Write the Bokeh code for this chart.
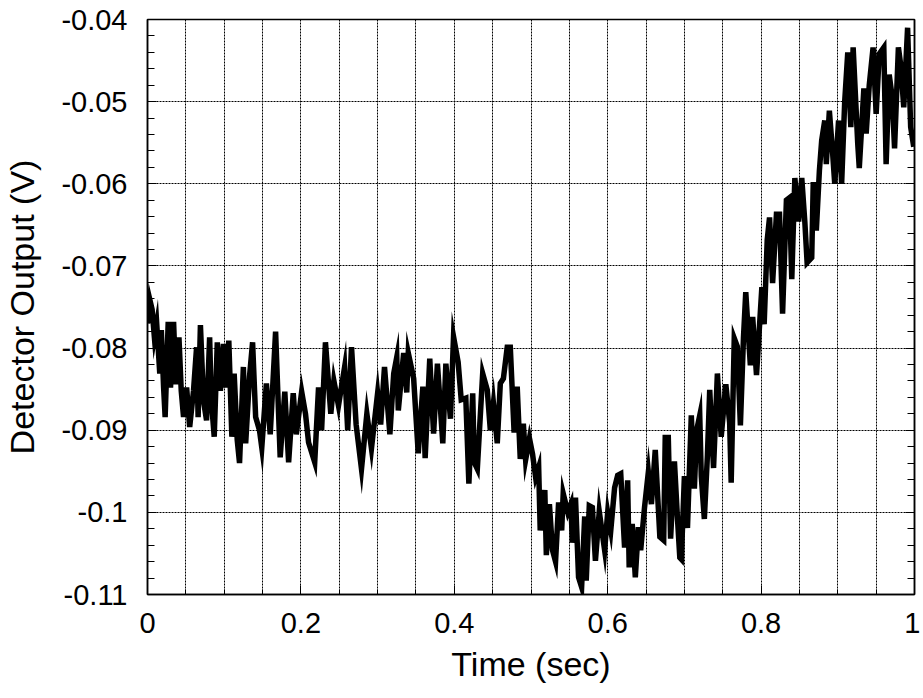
from bokeh.plotting import figure
from bokeh.models import Range1d, FixedTicker, LinearAxis
from bokeh.embed import file_html
from bokeh.resources import INLINE

# Data
time_sec = [
    0.000, 0.003, 0.006, 0.009, 0.012, 0.016, 0.018, 0.021, 0.023, 0.027, 0.030, 0.034, 0.037, 0.041,
    0.044, 0.047, 0.051, 0.055, 0.060, 0.064, 0.066, 0.069, 0.073, 0.077, 0.081, 0.083, 0.087, 0.091,
    0.095, 0.099, 0.102, 0.106, 0.110, 0.113, 0.117, 0.120, 0.125, 0.128, 0.133, 0.137, 0.141, 0.146,
    0.149, 0.155, 0.160, 0.167, 0.173, 0.179, 0.184, 0.190, 0.194, 0.201, 0.206, 0.210, 0.218, 0.223,
    0.227, 0.232, 0.239, 0.243, 0.249, 0.257, 0.261, 0.266, 0.272, 0.279, 0.286, 0.292, 0.300, 0.304,
    0.309, 0.316,
    0.321, 0.325, 0.327, 0.334, 0.338, 0.340, 0.347, 0.353, 0.359, 0.362, 0.368, 0.373, 0.378, 0.385,
    0.389, 0.395, 0.399, 0.405, 0.409, 0.415, 0.419, 0.424, 0.426, 0.430, 0.437, 0.443, 0.447, 0.451,
    0.456, 0.460, 0.464, 0.469, 0.473, 0.478, 0.482, 0.486, 0.490,
    0.493, 0.498, 0.502, 0.506, 0.510, 0.512, 0.518, 0.520, 0.524, 0.528, 0.532, 0.536, 0.540, 0.542,
    0.548, 0.552, 0.554, 0.558, 0.562, 0.566, 0.570, 0.572, 0.576, 0.580, 0.584, 0.589, 0.596, 0.600,
    0.604, 0.609, 0.613, 0.617, 0.622, 0.626, 0.628, 0.632, 0.636, 0.640, 0.643, 0.648, 0.653, 0.657,
    0.662,
    0.668, 0.673, 0.675, 0.679, 0.682, 0.687, 0.691, 0.694, 0.696, 0.700, 0.704, 0.709, 0.713, 0.716,
    0.720, 0.722, 0.726, 0.730, 0.733, 0.738, 0.743, 0.748, 0.754, 0.759, 0.761, 0.765, 0.769, 0.773,
    0.777, 0.780, 0.782, 0.786, 0.789, 0.794, 0.801, 0.804, 0.808, 0.811, 0.815, 0.820, 0.824, 0.828,
    0.833,
    0.837, 0.840, 0.844, 0.849, 0.853, 0.857, 0.860, 0.866, 0.868, 0.872, 0.876, 0.879, 0.883, 0.885,
    0.889, 0.893, 0.896, 0.901, 0.905, 0.909, 0.913, 0.917, 0.920, 0.926, 0.928, 0.934, 0.937, 0.941,
    0.946, 0.950, 0.954, 0.960, 0.963, 0.967, 0.971, 0.974, 0.979, 0.982, 0.986, 0.991, 0.995, 0.999,
]
detector_v = [
    -0.0770, -0.0741, -0.0753, -0.0787, -0.0770, -0.0831, -0.0778, -0.0848, -0.0884, -0.0768, -0.0848, -0.0768, -0.0844, -0.0787,
    -0.0852, -0.0884, -0.0848, -0.0896, -0.0852, -0.0799, -0.0884, -0.0772, -0.0864, -0.0888, -0.0787, -0.0860, -0.0908, -0.0793,
    -0.0852, -0.0795, -0.0848, -0.0791, -0.0908, -0.0831, -0.0912, -0.0940, -0.0823, -0.0916, -0.0835, -0.0793, -0.0884, -0.0900,
    -0.0921, -0.0843, -0.0905, -0.0780, -0.0933, -0.0853, -0.0939, -0.0855, -0.0905, -0.0853, -0.0880, -0.0915, -0.0939, -0.0848,
    -0.0900, -0.0793, -0.0880, -0.0840, -0.0870, -0.0823, -0.0900, -0.0799, -0.0893, -0.0947, -0.0880, -0.0922, -0.0855, -0.0893,
    -0.0823, -0.0905,
    -0.0831, -0.0811, -0.0876, -0.0806, -0.0854, -0.0806, -0.0837, -0.0928, -0.0847, -0.0934, -0.0813, -0.0904, -0.0819, -0.0916,
    -0.0819, -0.0886, -0.0786, -0.0817, -0.0863, -0.0861, -0.0965, -0.0855, -0.0939, -0.0947, -0.0831, -0.0851, -0.0900, -0.0867,
    -0.0916, -0.0843, -0.0837, -0.0799, -0.0799, -0.0903, -0.0847, -0.0935, -0.0892,
    -0.0936, -0.0910, -0.0929, -0.0957, -0.0945, -0.1022, -0.0973, -0.1052, -0.0990, -0.1046, -0.1060, -0.0988, -0.1022, -0.0977,
    -0.1000, -0.0990, -0.1037, -0.0982, -0.1079, -0.1091, -0.1005, -0.1083, -0.0992, -0.0994, -0.1059, -0.0999, -0.1046, -0.1000,
    -0.1022, -0.0970, -0.0955, -0.0953, -0.1043, -0.0961, -0.1067, -0.1014, -0.1079, -0.1018, -0.1046, -0.0994, -0.0951, -0.0990,
    -0.0924,
    -0.1030, -0.1034, -0.0909, -0.0909, -0.1032, -0.0938, -0.1008, -0.1055, -0.1057, -0.0956, -0.1019, -0.0882, -0.0971, -0.0900,
    -0.0882, -0.0956, -0.1008, -0.0931, -0.0851, -0.0946, -0.0831, -0.0908, -0.0844, -0.0891, -0.0964, -0.0788, -0.0798, -0.0894,
    -0.0788, -0.0732, -0.0762, -0.0821, -0.0762, -0.0833, -0.0726, -0.0771, -0.0668, -0.0641, -0.0721, -0.0637, -0.0637, -0.0758,
    -0.0620,
    -0.0617, -0.0716, -0.0593, -0.0646, -0.0593, -0.0646, -0.0696, -0.0690, -0.0598, -0.0657, -0.0584, -0.0547, -0.0523, -0.0576,
    -0.0511, -0.0559, -0.0600, -0.0523, -0.0600, -0.0500, -0.0440, -0.0531, -0.0434, -0.0551, -0.0581, -0.0484, -0.0539, -0.0480,
    -0.0434, -0.0515, -0.0442, -0.0434, -0.0576, -0.0467, -0.0495, -0.0557, -0.0434, -0.0455, -0.0507, -0.0410, -0.0531, -0.0555,
]

x_ticks = [0.0, 0.2, 0.4, 0.6, 0.8, 1.0]
x_tick_labels = ["0", "0.2", "0.4", "0.6", "0.8", "1"]
y_ticks = [-0.11, -0.10, -0.09, -0.08, -0.07, -0.06, -0.05, -0.04]
y_tick_labels = ["-0.11", "-0.1", "-0.09", "-0.08", "-0.07", "-0.06", "-0.05", "-0.04"]

FONT = "Liberation Sans"

p = figure(
    frame_width=767, frame_height=575,
    x_range=Range1d(0, 1), y_range=Range1d(-0.11, -0.04),
    output_backend="svg", toolbar_location=None,
    min_border_left=144, min_border_top=19, min_border_right=6, min_border_bottom=88,
    background_fill_color="white", border_fill_color="white",
)
p.outline_line_color = "black"
p.outline_line_width = 1.5

x_minor = [i * 0.05 for i in range(21)]
y_minor = [-0.11 + i * 0.002 for i in range(36)]

p.xaxis.ticker = FixedTicker(ticks=x_ticks, minor_ticks=x_minor)
p.yaxis.ticker = FixedTicker(ticks=y_ticks, minor_ticks=y_minor)
p.xaxis.major_label_overrides = dict(zip(x_ticks, x_tick_labels))
p.yaxis.major_label_overrides = dict(zip(y_ticks, y_tick_labels))

for ax in (p.xaxis, p.yaxis):
    ax.axis_line_color = "black"
    ax.axis_line_width = 1.5
    ax.major_tick_in = 9
    ax.major_tick_out = 0
    ax.minor_tick_out = 0
    ax.major_tick_line_color = "black"
    ax.minor_tick_line_color = "black"
    ax.major_label_text_font = FONT
    ax.major_label_text_font_size = "29px"
    ax.major_label_text_color = "black"
    ax.axis_label_text_font = FONT
    ax.axis_label_text_font_size = "34px"
    ax.axis_label_text_font_style = "normal"
    ax.axis_label_text_color = "black"

p.xaxis.minor_tick_in = 5
p.yaxis.minor_tick_in = 7
p.xaxis.major_label_standoff = 18
p.yaxis.major_label_standoff = 20
p.xaxis.axis_label = "Time (sec)"
p.yaxis.axis_label = "Detector Output (V)"
p.xaxis.axis_label_standoff = 9
p.yaxis.axis_label_standoff = 17

right = LinearAxis(
    ticker=FixedTicker(ticks=y_ticks, minor_ticks=y_minor),
    major_label_text_font_size="0px",
    major_tick_in=9, major_tick_out=0, minor_tick_in=7, minor_tick_out=0,
    axis_line_color="black", axis_line_width=1.5,
)
right.major_label_text_alpha = 0
p.add_layout(right, "right")

p.xgrid.ticker = FixedTicker(ticks=x_minor)
p.xgrid.grid_line_color = "black"
p.xgrid.grid_line_dash = "2 1"
p.xgrid.grid_line_width = 1
p.ygrid.grid_line_color = "black"
p.ygrid.grid_line_dash = "2 1"
p.ygrid.grid_line_width = 1

p.line(time_sec, detector_v, line_color="black", line_width=5.5, line_join="miter")

open("out.html", "w").write(file_html(p, INLINE))
